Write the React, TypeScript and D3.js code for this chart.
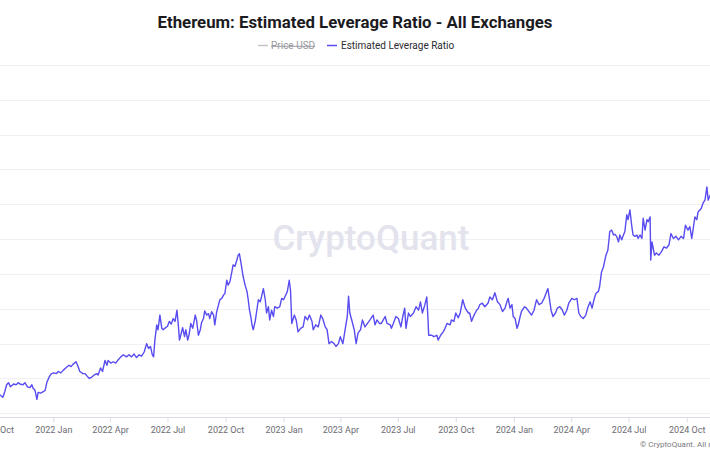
import React, { useEffect, useRef } from 'react';
import * as d3 from 'd3';

// Estimated leverage ratio (roughly every 3-4 days)
const dates = [
  '2021-10-02', '2021-10-09', '2021-10-13', '2021-10-16', '2021-10-19', '2021-10-22', '2021-10-25', '2021-10-30',
  '2021-11-03', '2021-11-07', '2021-11-09', '2021-11-14', '2021-11-17', '2021-11-21', '2021-11-25', '2021-11-28',
  '2021-11-30', '2021-12-03', '2021-12-06', '2021-12-08', '2021-12-12', '2021-12-16', '2021-12-19', '2021-12-22',
  '2021-12-26', '2021-12-29', '2022-01-02', '2022-01-06', '2022-01-09', '2022-01-13', '2022-01-17', '2022-01-22',
  '2022-01-26', '2022-01-29', '2022-02-02', '2022-02-06', '2022-02-09', '2022-02-12', '2022-02-17', '2022-02-20',
  '2022-02-24', '2022-02-27', '2022-03-03', '2022-03-07', '2022-03-11', '2022-03-13', '2022-03-17', '2022-03-20',
  '2022-03-24', '2022-03-27', '2022-03-29', '2022-04-02', '2022-04-06', '2022-04-10', '2022-04-14', '2022-04-18',
  '2022-04-22', '2022-04-27', '2022-05-01', '2022-05-05', '2022-05-09', '2022-05-13', '2022-05-17', '2022-05-21',
  '2022-05-25', '2022-05-29', '2022-06-01', '2022-06-04', '2022-06-07', '2022-06-09', '2022-06-11', '2022-06-14',
  '2022-06-16', '2022-06-19', '2022-06-22', '2022-06-24', '2022-06-28', '2022-07-01', '2022-07-04', '2022-07-07',
  '2022-07-10', '2022-07-13', '2022-07-16', '2022-07-18', '2022-07-20', '2022-07-22', '2022-07-25', '2022-07-28',
  '2022-07-30', '2022-08-02', '2022-08-04', '2022-08-07', '2022-08-10', '2022-08-14', '2022-08-16', '2022-08-19',
  '2022-08-22', '2022-08-24', '2022-08-27', '2022-08-29', '2022-09-01', '2022-09-04', '2022-09-06', '2022-09-09',
  '2022-09-12', '2022-09-14', '2022-09-17', '2022-09-20', '2022-09-22', '2022-09-25', '2022-09-28', '2022-09-30',
  '2022-10-03', '2022-10-05', '2022-10-08', '2022-10-11', '2022-10-13', '2022-10-16', '2022-10-19', '2022-10-21',
  '2022-10-23', '2022-10-26', '2022-10-29', '2022-11-01', '2022-11-04', '2022-11-06', '2022-11-08', '2022-11-10',
  '2022-11-12', '2022-11-14', '2022-11-17', '2022-11-19', '2022-11-22', '2022-11-25', '2022-11-27', '2022-11-30',
  '2022-12-03', '2022-12-05', '2022-12-08', '2022-12-10', '2022-12-13', '2022-12-16', '2022-12-18', '2022-12-22',
  '2022-12-26', '2022-12-29', '2023-01-01', '2023-01-03', '2023-01-07', '2023-01-10', '2023-01-12', '2023-01-14',
  '2023-01-18', '2023-01-21', '2023-01-24', '2023-01-28', '2023-02-01', '2023-02-04', '2023-02-08', '2023-02-11',
  '2023-02-15', '2023-02-17', '2023-02-21', '2023-02-25', '2023-03-01', '2023-03-04', '2023-03-08', '2023-03-11',
  '2023-03-14', '2023-03-18', '2023-03-22', '2023-03-25', '2023-03-29', '2023-04-01', '2023-04-05', '2023-04-08',
  '2023-04-12', '2023-04-14', '2023-04-16', '2023-04-19', '2023-04-23', '2023-04-26', '2023-04-29', '2023-05-03',
  '2023-05-06', '2023-05-10', '2023-05-14', '2023-05-18', '2023-05-23', '2023-05-26', '2023-05-29', '2023-06-02',
  '2023-06-05', '2023-06-11', '2023-06-14', '2023-06-19', '2023-06-21', '2023-06-24', '2023-06-28', '2023-07-02',
  '2023-07-06', '2023-07-09', '2023-07-12', '2023-07-14', '2023-07-18', '2023-07-21', '2023-07-26', '2023-07-30',
  '2023-08-03', '2023-08-06', '2023-08-09', '2023-08-13', '2023-08-16', '2023-08-18', '2023-08-19', '2023-08-24',
  '2023-08-27', '2023-09-01', '2023-09-03', '2023-09-07', '2023-09-11', '2023-09-14', '2023-09-17', '2023-09-22',
  '2023-09-24', '2023-09-28', '2023-10-01', '2023-10-05', '2023-10-08', '2023-10-12', '2023-10-16', '2023-10-18',
  '2023-10-21', '2023-10-23', '2023-10-26', '2023-10-30', '2023-11-03', '2023-11-06', '2023-11-08', '2023-11-12',
  '2023-11-16', '2023-11-21', '2023-11-24', '2023-11-28', '2023-12-02', '2023-12-06', '2023-12-10', '2023-12-14',
  '2023-12-18', '2023-12-21', '2023-12-23', '2023-12-26', '2023-12-29', '2023-12-31', '2024-01-03', '2024-01-06',
  '2024-01-08', '2024-01-11', '2024-01-13', '2024-01-18', '2024-01-21', '2024-01-25', '2024-01-29', '2024-02-02',
  '2024-02-06', '2024-02-10', '2024-02-14', '2024-02-18', '2024-02-21', '2024-02-24', '2024-02-26', '2024-02-29',
  '2024-03-03', '2024-03-07', '2024-03-10', '2024-03-14', '2024-03-18', '2024-03-21', '2024-03-25', '2024-03-28',
  '2024-04-02', '2024-04-06', '2024-04-10', '2024-04-13', '2024-04-16', '2024-04-20', '2024-04-24', '2024-04-27',
  '2024-05-01', '2024-05-04', '2024-05-07', '2024-05-10', '2024-05-14', '2024-05-16', '2024-05-19', '2024-05-22',
  '2024-05-26', '2024-05-29', '2024-05-31', '2024-06-01', '2024-06-04', '2024-06-07', '2024-06-09', '2024-06-12',
  '2024-06-15', '2024-06-17', '2024-06-20', '2024-06-22', '2024-06-25', '2024-06-28', '2024-06-30', '2024-07-03',
  '2024-07-06', '2024-07-08', '2024-07-11', '2024-07-14', '2024-07-16', '2024-07-19', '2024-07-22', '2024-07-24',
  '2024-07-27', '2024-07-30', '2024-08-01', '2024-08-04', '2024-08-05', '2024-08-07', '2024-08-11', '2024-08-14',
  '2024-08-18', '2024-08-22', '2024-08-26', '2024-08-30', '2024-09-03', '2024-09-06', '2024-09-10', '2024-09-14',
  '2024-09-18', '2024-09-22', '2024-09-26', '2024-09-29', '2024-10-03', '2024-10-06', '2024-10-09', '2024-10-11',
  '2024-10-14', '2024-10-17', '2024-10-19', '2024-10-24', '2024-10-27', '2024-10-30', '2024-11-02', '2024-11-04',
  '2024-11-07', '2024-11-13',
];

const leverage = [
  0.178, 0.176, 0.173, 0.181, 0.191, 0.194, 0.188, 0.192,
  0.191, 0.194, 0.192, 0.191, 0.194, 0.188, 0.187, 0.191,
  0.186, 0.183, 0.170, 0.180, 0.179, 0.181, 0.183, 0.195,
  0.203, 0.207, 0.208, 0.207, 0.210, 0.208, 0.212, 0.216,
  0.219, 0.217, 0.221, 0.224, 0.218, 0.210, 0.207, 0.207,
  0.203, 0.200, 0.202, 0.205, 0.207, 0.205, 0.215, 0.210,
  0.226, 0.219, 0.226, 0.222, 0.224, 0.222, 0.227, 0.231,
  0.234, 0.231, 0.234, 0.231, 0.235, 0.230, 0.234, 0.232,
  0.238, 0.250, 0.243, 0.246, 0.234, 0.231, 0.255, 0.277,
  0.270, 0.291, 0.272, 0.270, 0.273, 0.275, 0.282, 0.278,
  0.286, 0.282, 0.298, 0.279, 0.255, 0.262, 0.273, 0.260,
  0.270, 0.255, 0.262, 0.279, 0.272, 0.291, 0.284, 0.262,
  0.270, 0.280, 0.286, 0.297, 0.291, 0.293, 0.286, 0.296,
  0.291, 0.277, 0.296, 0.306, 0.313, 0.315, 0.320, 0.322,
  0.341, 0.334, 0.339, 0.353, 0.363, 0.361, 0.370, 0.377,
  0.379, 0.363, 0.346, 0.334, 0.325, 0.313, 0.298, 0.289,
  0.277, 0.270, 0.282, 0.294, 0.313, 0.310, 0.317, 0.329,
  0.313, 0.294, 0.303, 0.284, 0.298, 0.289, 0.303, 0.301,
  0.303, 0.315, 0.313, 0.317, 0.325, 0.341, 0.327, 0.279,
  0.291, 0.284, 0.267, 0.272, 0.274, 0.289, 0.284, 0.291,
  0.282, 0.270, 0.277, 0.274, 0.291, 0.286, 0.274, 0.270,
  0.250, 0.253, 0.250, 0.246, 0.250, 0.260, 0.250, 0.267,
  0.289, 0.318, 0.294, 0.284, 0.270, 0.250, 0.265, 0.270,
  0.284, 0.274, 0.279, 0.284, 0.291, 0.277, 0.284, 0.279,
  0.279, 0.289, 0.279, 0.277, 0.272, 0.279, 0.289, 0.286,
  0.274, 0.289, 0.301, 0.272, 0.294, 0.289, 0.294, 0.303,
  0.298, 0.310, 0.294, 0.306, 0.317, 0.284, 0.262, 0.262,
  0.260, 0.262, 0.255, 0.262, 0.267, 0.272, 0.279, 0.277,
  0.284, 0.282, 0.294, 0.287, 0.294, 0.313, 0.301, 0.298,
  0.294, 0.294, 0.282, 0.291, 0.298, 0.301, 0.306, 0.308,
  0.303, 0.308, 0.317, 0.313, 0.323, 0.310, 0.306, 0.296,
  0.301, 0.310, 0.315, 0.301, 0.306, 0.289, 0.286, 0.272,
  0.277, 0.289, 0.296, 0.303, 0.301, 0.296, 0.291, 0.298,
  0.313, 0.306, 0.308, 0.315, 0.322, 0.329, 0.317, 0.298,
  0.289, 0.294, 0.301, 0.303, 0.298, 0.291, 0.298, 0.308,
  0.315, 0.313, 0.315, 0.294, 0.289, 0.286, 0.291, 0.301,
  0.310, 0.301, 0.313, 0.322, 0.325, 0.332, 0.353, 0.360,
  0.377, 0.384, 0.401, 0.411, 0.413, 0.406, 0.407, 0.404,
  0.396, 0.406, 0.399, 0.404, 0.411, 0.435, 0.428, 0.442,
  0.418, 0.406, 0.404, 0.406, 0.401, 0.406, 0.401, 0.430,
  0.413, 0.428, 0.425, 0.432, 0.370, 0.396, 0.377, 0.380,
  0.377, 0.382, 0.389, 0.387, 0.392, 0.408, 0.401, 0.404,
  0.399, 0.404, 0.401, 0.420, 0.413, 0.418, 0.401, 0.413,
  0.432, 0.428, 0.439, 0.444, 0.452, 0.456, 0.475, 0.456,
  0.463, 0.459,
];

const tickDates = [
  '2021-10-01', '2022-01-01', '2022-04-01', '2022-07-01', '2022-10-01', '2023-01-01',
  '2023-04-01', '2023-07-01', '2023-10-01', '2024-01-01', '2024-04-01', '2024-07-01', '2024-10-01',
];
const tickLabels = [
  '2021 Oct', '2022 Jan', '2022 Apr', '2022 Jul', '2022 Oct', '2023 Jan',
  '2023 Apr', '2023 Jul', '2023 Oct', '2024 Jan', '2024 Apr', '2024 Jul', '2024 Oct',
];
const gridValues = [0.15, 0.2, 0.25, 0.3, 0.35, 0.4, 0.45, 0.5, 0.55, 0.6, 0.65];

const WIDTH = 710;
const HEIGHT = 458;
const FONT = 'Roboto, "Noto Sans", sans-serif';
const LINE_COLOR = '#584cf0';

export default function App() {
  const svgRef = useRef<SVGSVGElement | null>(null);

  useEffect(() => {
    document.body.style.margin = '0';
    if (!svgRef.current) return;

    const svg = d3.select(svgRef.current);
    svg.selectAll('*').remove();

    const parse = d3.utcParse('%Y-%m-%d');
    const data = dates.map((d, i) => ({ date: parse(d) as Date, value: leverage[i] }));

    // plot runs past both edges of the frame, like the cropped original
    const x = d3.scaleUtc()
      .domain([parse('2022-01-01') as Date, parse('2024-10-01') as Date])
      .range([53.3, 686.7]);
    const y = d3.scaleLinear().domain([0.15, 0.65]).range([413.3, 65]);
    const axisY = 417.5;

    svg.append('rect').attr('width', WIDTH).attr('height', HEIGHT).attr('fill', '#ffffff');

    // --- title + legend ---
    svg.append('text')
      .attr('x', WIDTH / 2)
      .attr('y', 28)
      .attr('text-anchor', 'middle')
      .attr('font-size', 16.8)
      .attr('font-weight', 700)
      .attr('fill', '#1b1b1f')
      .text('Ethereum: Estimated Leverage Ratio - All Exchanges');

    const legend = svg.append('g').attr('font-size', 10);
    legend.append('line')
      .attr('x1', 258).attr('x2', 268).attr('y1', 45.5).attr('y2', 45.5)
      .attr('stroke', '#c4c4c8').attr('stroke-width', 1.5);
    legend.append('text')
      .attr('x', 271).attr('y', 49.3)
      .attr('fill', '#9a9aa0')
      .attr('text-decoration', 'line-through')
      .text('Price USD');
    legend.append('line')
      .attr('x1', 327).attr('x2', 337).attr('y1', 45.5).attr('y2', 45.5)
      .attr('stroke', LINE_COLOR).attr('stroke-width', 1.5);
    legend.append('text')
      .attr('x', 341).attr('y', 49.3)
      .attr('fill', '#2b2b30')
      .text('Estimated Leverage Ratio');

    // --- grid ---
    svg.append('g')
      .selectAll('line')
      .data(gridValues)
      .enter()
      .append('line')
      .attr('x1', 0).attr('x2', WIDTH)
      .attr('y1', d => Math.round(y(d)) + 0.5)
      .attr('y2', d => Math.round(y(d)) + 0.5)
      .attr('stroke', '#f0f0f3');

    // watermark
    svg.append('text')
      .attr('x', 371)
      .attr('y', 250)
      .attr('text-anchor', 'middle')
      .attr('font-size', 35)
      .attr('font-weight', 500)
      .attr('fill', '#e3e3ed')
      .text('CryptoQuant');

    // --- x axis ---
    svg.append('line')
      .attr('x1', 0).attr('x2', WIDTH)
      .attr('y1', axisY).attr('y2', axisY)
      .attr('stroke', '#dcdde6');

    const xAxis = d3.axisBottom(x)
      .tickValues(tickDates.map(d => parse(d) as Date))
      .tickFormat((_, i) => tickLabels[i])
      .tickSize(5)
      .tickPadding(4);

    const gX = svg.append('g')
      .attr('transform', `translate(0,${axisY})`)
      .call(xAxis);
    gX.select('.domain').remove();
    gX.selectAll('.tick line').attr('stroke', '#dcdde6');
    gX.selectAll('.tick text')
      .attr('fill', '#6b6b72')
      .style('font-size', '9px')
      .style('font-family', FONT);

    // --- series ---
    svg.append('defs')
      .append('clipPath')
      .attr('id', 'plotClip')
      .append('rect')
      .attr('x', 0).attr('y', 55)
      .attr('width', WIDTH).attr('height', axisY - 55);

    const line = d3.line<{ date: Date; value: number }>()
      .x(d => x(d.date))
      .y(d => y(d.value));

    svg.append('path')
      .datum(data)
      .attr('clip-path', 'url(#plotClip)')
      .attr('fill', 'none')
      .attr('stroke', LINE_COLOR)
      .attr('stroke-width', 1.4)
      .attr('stroke-linejoin', 'round')
      .attr('d', line);

    // copyright, cut at the frame edge as in the original
    svg.append('text')
      .attr('x', 640)
      .attr('y', 447)
      .attr('font-size', 8)
      .attr('fill', '#7a7a80')
      .text('© CryptoQuant. All rights reserved.');
  }, []);

  return (
    <svg
      ref={svgRef}
      width={WIDTH}
      height={HEIGHT}
      style={{ display: 'block', fontFamily: FONT }}
    />
  );
}
